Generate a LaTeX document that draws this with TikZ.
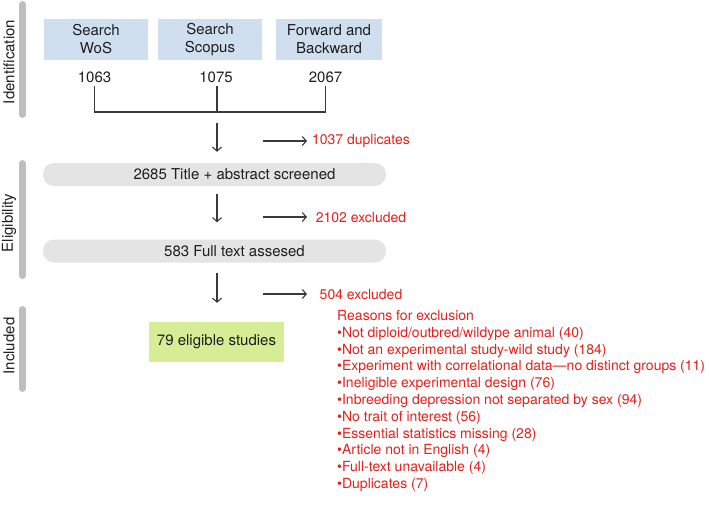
\documentclass[tikz,border=0pt]{standalone}
\usepackage{fontspec}
\setmainfont{TeX Gyre Heros}
\usetikzlibrary{arrows.meta,calc}
\definecolor{boxblue}{HTML}{CFDFEF}
\definecolor{pillgray}{HTML}{E4E4E4}
\definecolor{bargray}{HTML}{BEBEBE}
\definecolor{boxgreen}{HTML}{D6EC95}
\definecolor{txtred}{HTML}{E3201B}
\definecolor{txt}{HTML}{1E1E1E}
\definecolor{linegray}{HTML}{3A3A3A}
\begin{document}
\begin{tikzpicture}[x=1pt,y=-1pt,
  every node/.style={font=\fontsize{15}{18}\selectfont, text=txt},
  src/.style={fill=boxblue, minimum height=41pt, inner sep=0pt, align=center},
  pill/.style={fill=pillgray, rounded corners=11pt, minimum width=343pt, minimum height=23pt, inner sep=0pt},
  phase/.style={rotate=90},
  bar/.style={line width=7pt, line cap=round, draw=bargray},
  conn/.style={draw=linegray, line width=1.1pt},
  arr/.style={conn, -{Straight Barb[length=4pt,width=9pt]}},
  note/.style={text=txtred, font=\fontsize{14}{16.8}\selectfont}
]
\useasboundingbox (0,0) rectangle (709,512);

% phase bars and labels
\draw[bar] (22.5,4.5) -- (22.5,114.5);
\draw[bar] (22.5,163.5) -- (22.5,275.5);
\draw[bar] (22.5,309.5) -- (22.5,388.5);
\node[phase] (ph1) at (9,62) {Identification};
\node[phase] (ph2) at (9,223) {Eligibility};
\node[phase] (ph3) at (9,346) {Included};

% sources
\node[src, minimum width=104pt] (wos) at (96,39.5) {Search\\WoS};
\node[src, minimum width=104pt] (scopus) at (210,39.5) {Search\\Scopus};
\node[src, minimum width=106pt] (fwd) at (329,39.5) {Forward and\\Backward};
\node (n1) at (94.5,77) {1063};
\node (n2) at (216,77) {1075};
\node (n3) at (325.5,77) {2067};

% bracket
\coordinate (j) at (217,112);
\draw[conn] (n1.south) -- (n1.south |- j) -- (n3.south |- j) -- (n3.south);
\draw[conn] (n2.south -| j) -- (j);

% screening pills
\node[pill] (p1) at (214.5,174.5) {\hspace*{40pt}2685 Title + abstract screened};
\node[pill] (p2) at (214.5,251) {\hspace*{40pt}583 Full text assesed};
\node[fill=boxgreen, minimum width=135pt, minimum height=40pt, inner sep=0pt] (inc) at (216.5,342) {79 eligible studies};

% main arrows
\draw[arr] ($(j)+(0,11)$) -- ($(j |- p1.north)+(0,-11)$);
\draw[arr] ($(j |- p1.south)+(0,8)$) -- ($(j |- p2.north)+(0,-17)$);
\draw[arr] ($(j |- p2.south)+(0,10)$) -- ($(j |- inc.north)+(0,-19)$);

% side arrows and notes
\node[note] (d1) at (361,141) {1037 duplicates};
\node[note] (d2) at (361,217) {2102 excluded};
\node[note] (d3) at (361,294) {504 excluded};
\coordinate (s1a) at (263,141); \coordinate (s1b) at (307,141);
\coordinate (s2a) at (263,217); \coordinate (s2b) at (307,217);
\coordinate (s3a) at (263,294); \coordinate (s3b) at (307,294);
\draw[arr] (s1a) -- (s1b);
\draw[arr] (s2a) -- (s2b);
\draw[arr] (s3a) -- (s3b);

% reasons
\node[note, anchor=north west, align=left, inner sep=0pt] (reasons) at (337,310) {Reasons for exclusion\\
•Not diploid/outbred/wildype animal (40)\\
•Not an experimental study-wild study (184)\\
•Experiment with correlational data—no distinct groups (11)\\
•Ineligible experimental design (76)\\
•Inbreeding depression not separated by sex (94)\\
•No trait of interest (56)\\
•Essential statistics missing (28)\\
•Article not in English (4)\\
•Full-text unavailable (4)\\
•Duplicates (7)};
\end{tikzpicture}
\end{document}
